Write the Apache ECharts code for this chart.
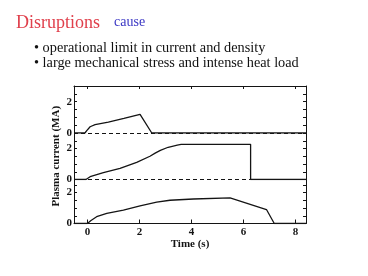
<!DOCTYPE html>
<html>
<head>
<meta charset="utf-8">
<script src="https://cdn.jsdelivr.net/npm/echarts@6/dist/echarts.min.js"></script>
<style>
html,body{margin:0;padding:0;background:#fff;}
#c{width:368px;height:276px;}
</style>
</head>
<body>
<div id="c"></div>
<script>
// ---- data ----
var titleText = 'Disruptions';
var subText = 'cause';
var bullets = ['\u2022 operational limit in current and density', '\u2022 large mechanical stress and intense heat load'];
var xTicks = [0, 2, 4, 6, 8];
var yTickLabels = [0, 2];
var xName = 'Time (s)';
var yName = 'Plasma current (MA)';

// panel 1 (top): disruption at ~2.5 s
var timeA = [-0.52, -0.1, -0.03, 0.1, 0.29, 0.8, 1.4, 2.02, 2.47, 8.4];
var currA = [0, 0, 0.15, 0.4, 0.53, 0.7, 0.93, 1.19, 0, 0];
// panel 2 (middle): disruption at ~6.3 s
var timeB = [-0.52, -0.06, 0.1, 0.61, 1.25, 1.89, 2.4, 2.6, 2.8, 3.1, 3.45, 3.6, 6.27, 6.27, 8.4];
var currB = [0, 0, 0.18, 0.44, 0.72, 1.11, 1.5, 1.7, 1.88, 2.08, 2.22, 2.26, 2.27, 0, 0];
// panel 3 (bottom): normal ramp-down
var timeC = [-0.52, 0, 0.12, 0.35, 0.74, 1.38, 2.02, 2.66, 3.17, 4.07, 5.48, 6.88, 7.18, 8.4];
var currC = [0, 0, 0.18, 0.44, 0.66, 0.87, 1.13, 1.38, 1.5, 1.58, 1.65, 0.9, 0, 0];

function pairs(t, v) { return t.map(function (x, i) { return [x, v[i]]; }); }

var FONT = '"Liberation Serif", "Times New Roman", serif';
var INK = '#141414';
var XMIN = -0.52, XMAX = 8.4;

var chart = echarts.init(document.getElementById('c'), null, {renderer: 'canvas'});

var grids = [
  {left: 74, right: 62, top: 86, height: 47},
  {left: 74, right: 62, top: 133, height: 46.5},
  {left: 74, right: 62, top: 179.5, height: 44}
];
var ymax = [3, 3, 44 / 15.5];

var xAxes = [], yAxes = [];
for (var g = 0; g < 3; g++) {
  var xa = {
    type: 'value', gridIndex: g, min: XMIN, max: XMAX,
    splitLine: {show: false},
    axisLine: {show: g !== 1, onZero: false, lineStyle: {color: INK, width: 1}},
    axisTick: {show: g !== 1, inside: true, length: g === 0 ? 3 : 4, customValues: xTicks, lineStyle: {color: INK}},
    axisLabel: {show: g === 2, customValues: xTicks, margin: 3, color: INK, fontFamily: FONT, fontWeight: 'bold', fontSize: 11},
    position: g === 0 ? 'top' : 'bottom'
  };
  if (g === 2) {
    xa.name = xName; xa.nameLocation = 'middle'; xa.nameGap = 14;
    xa.nameTextStyle = {color: INK, fontFamily: FONT, fontWeight: 'bold', fontSize: 11};
  }
  xAxes.push(xa);
  var ya = {
    type: 'value', gridIndex: g, min: 0, max: ymax[g], interval: 0.5, position: 'left',
    splitLine: {show: false},
    axisLine: {show: true, onZero: false, lineStyle: {color: INK, width: 1}},
    axisTick: {show: true, inside: true, length: 3, lineStyle: {color: INK}},
    axisLabel: {customValues: yTickLabels, margin: 2, color: INK, fontFamily: FONT, fontWeight: 'bold', fontSize: 11}
  };
  if (g === 1) {
    ya.name = yName; ya.nameLocation = 'middle'; ya.nameGap = 12; ya.nameRotate = 90;
    ya.nameMoveOverlap = false;
    ya.nameTextStyle = {color: INK, fontFamily: FONT, fontWeight: 'bold', fontSize: 11};
  }
  yAxes.push(ya);
  yAxes.push({
    type: 'value', gridIndex: g, min: 0, max: ymax[g], interval: 0.5, position: 'right',
    splitLine: {show: false},
    axisLine: {show: true, onZero: false, lineStyle: {color: INK, width: 1}},
    axisTick: {show: true, inside: true, length: 3, lineStyle: {color: INK}},
    axisLabel: {show: false}
  });
}

function lineSeries(g, t, v, zeroDash) {
  var s = {
    type: 'line', xAxisIndex: g, yAxisIndex: g * 2, data: pairs(t, v),
    showSymbol: false, symbol: 'none', animation: false,
    lineStyle: {color: INK, width: 1.3}
  };
  if (zeroDash) {
    s.markLine = {
      silent: true, symbol: 'none', label: {show: false}, animation: false,
      lineStyle: {color: INK, type: [4, 3], width: 1},
      data: [{yAxis: 0}]
    };
  }
  return s;
}

chart.setOption({
  animation: false,
  backgroundColor: '#fff',
  grid: grids,
  xAxis: xAxes,
  yAxis: yAxes,
  series: [
    lineSeries(0, timeA, currA, true),
    lineSeries(1, timeB, currB, true),
    lineSeries(2, timeC, currC, false)
  ],
  graphic: [
    {type: 'text', left: 16, top: 14, style: {text: titleText, fill: '#e0404c', font: '18px ' + FONT}},
    {type: 'text', left: 114, top: 15, style: {text: subText, fill: '#3a36c4', font: '14px ' + FONT}},
    {type: 'text', left: 34, top: 41, style: {text: bullets[0], fill: '#111', font: '14.3px ' + FONT}},
    {type: 'text', left: 34, top: 56, style: {text: bullets[1], fill: '#111', font: '14.3px ' + FONT}}
  ]
});
</script>
</body>
</html>
